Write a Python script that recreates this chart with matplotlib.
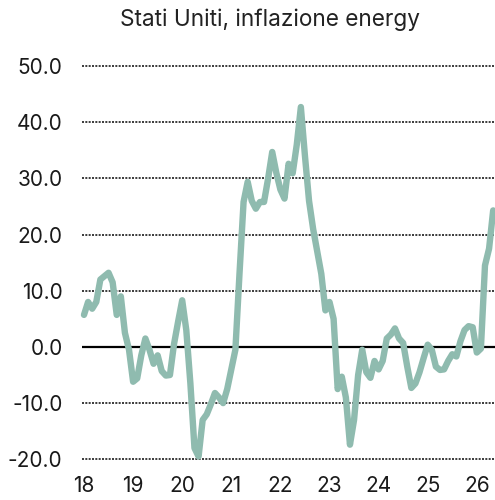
import matplotlib
matplotlib.use("Agg")
import matplotlib.pyplot as plt
import numpy as np

# Monthly US energy inflation (%), Jan 2018 -> May 2026
values = [
    5.7, 8.0, 6.8, 8.0, 12.0, 12.6, 13.2, 11.5, 5.7, 9.0, 2.5, -0.5,      # 2018
    -6.2, -5.6, -1.5, 1.5, -0.5, -3.0, -1.5, -4.3, -5.1, -5.0, 0.5, 4.5,  # 2019
    8.3, 3.0, -6.5, -18.0, -19.5, -13.0, -12.0, -10.2, -8.2, -9.0, -10.0, -7.5,  # 2020
    -4.0, -0.5, 13.0, 25.8, 29.4, 26.0, 24.6, 25.8, 25.8, 30.0, 34.7, 31.0,      # 2021
    28.0, 26.4, 32.6, 30.9, 36.0, 42.7, 34.0, 26.0, 21.0, 17.0, 13.0, 6.5,       # 2022
    8.0, 5.0, -7.5, -5.3, -9.0, -17.4, -13.0, -5.0, -0.5, -4.5, -5.5, -2.5,      # 2023
    -4.0, -2.5, 1.5, 2.2, 3.3, 1.5, 0.7, -3.5, -7.3, -6.5, -4.5, -2.0,           # 2024
    0.4, -0.5, -3.5, -4.1, -4.0, -2.5, -1.3, -1.7, 1.0, 3.0, 3.7, 3.5,           # 2025
    -1.0, -0.3, 14.5, 17.5, 24.3,                                               # 2026
]
start_year = 2018
year_ticks = list(range(2018, 2027))
year_labels = ["18", "19", "20", "21", "22", "23", "24", "25", "26"]
y_ticks = [-20, -10, 0, 10, 20, 30, 40, 50]
y_labels = ["-20.0", "-10.0", "0.0", "10.0", "20.0", "30.0", "40.0", "50.0"]
title = "Stati Uniti, inflazione energy"

plt.rcParams["font.family"] = ["Inter", "DejaVu Sans"]

fig = plt.figure(figsize=(4.95, 5.0), dpi=100)
ax = fig.add_axes([82 / 495, 1 - 464.9 / 500, 413 / 495, (464.9 - 60.4) / 500])

x = start_year + np.arange(len(values)) / 12.0
ax.set_xlim(2018 - 2 / 49.1, 2018 + 411 / 49.1)
ax.set_ylim(-21, 51)

for yt in y_ticks:
    if yt == 0:
        ax.axhline(0, color="black", lw=1.6, zorder=2)
    else:
        ax.axhline(yt, color="#1a1a1a", lw=1.2, ls=(0, (1.2, 0.8)), zorder=1)

ax.plot(x, values, color="#8fbbaf", lw=4.6, solid_joinstyle="round",
        solid_capstyle="round", zorder=3, clip_on=False)

for s in ax.spines.values():
    s.set_visible(False)
ax.set_yticks(y_ticks)
ax.set_yticklabels(y_labels)
ax.set_xticks(year_ticks)
ax.set_xticklabels(year_labels)
ax.tick_params(axis="both", length=0, labelsize=15, colors="#1a1a1a")
ax.tick_params(axis="y", pad=14)
ax.tick_params(axis="x", pad=8)

fig.text(269.5 / 495, 1 - 20 / 500, title, ha="center", va="center",
         fontsize=16.3, color="#222222")

fig.savefig("out.png", dpi=100)
